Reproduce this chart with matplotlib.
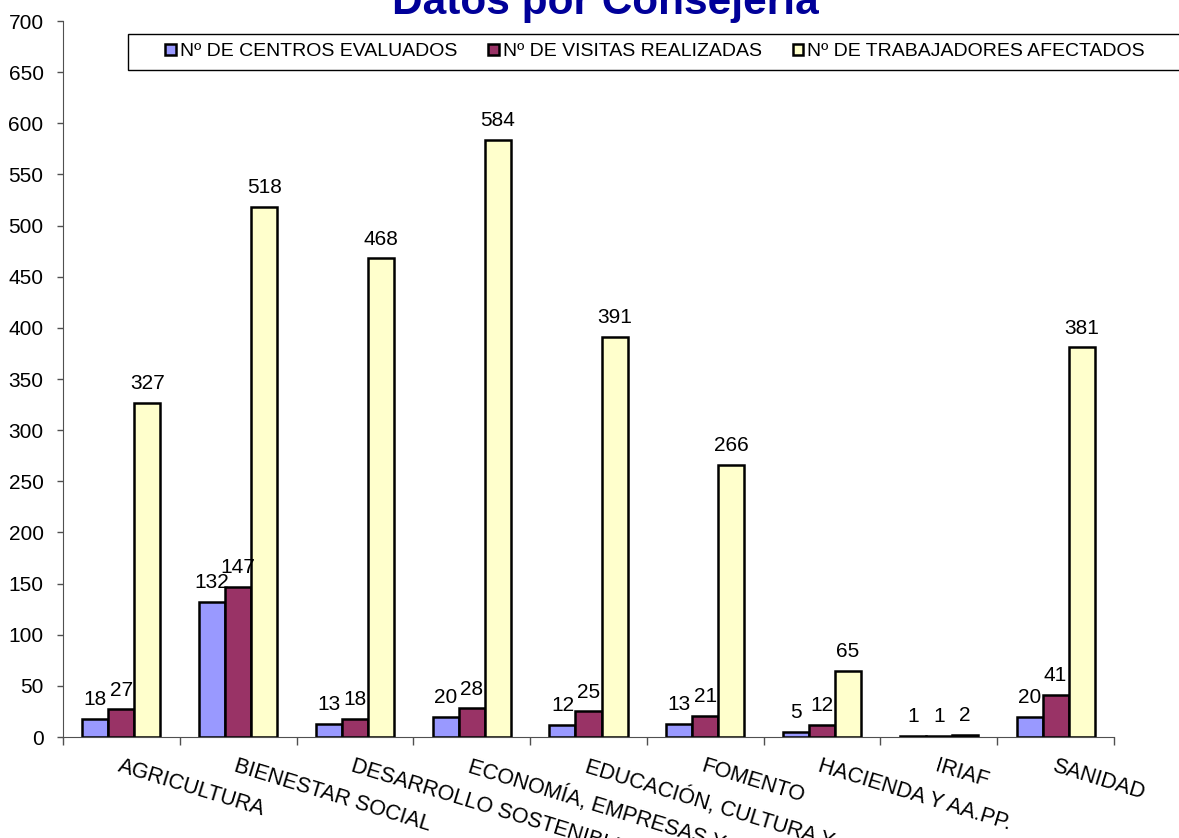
import matplotlib.pyplot as plt
from matplotlib.patches import Rectangle
import numpy as np

plt.rcParams['font.family'] = ['Liberation Sans', 'DejaVu Sans']

categorias = ['AGRICULTURA', 'BIENESTAR SOCIAL', 'DESARROLLO SOSTENIBLE',
              'ECONOMÍA, EMPRESAS Y…', 'EDUCACIÓN, CULTURA Y…', 'FOMENTO',
              'HACIENDA Y AA.PP.', 'IRIAF', 'SANIDAD']
centros = [18, 132, 13, 20, 12, 13, 5, 1, 20]
visitas = [27, 147, 18, 28, 25, 21, 12, 1, 41]
trabajadores = [327, 518, 468, 584, 391, 266, 65, 2, 381]
series_names = ['Nº DE CENTROS EVALUADOS', 'Nº DE VISITAS REALIZADAS',
                'Nº DE TRABAJADORES AFECTADOS']
colores = ['#9999FF', '#993366', '#FFFFCC']

fig = plt.figure(figsize=(11.79, 8.38), dpi=100)
ax = fig.add_axes([63/1179, 1-737/838, (1114-63)/1179, (737-21)/838])

x = np.arange(len(categorias))
w = 0.223
for i, (vals, name, col) in enumerate(zip([centros, visitas, trabajadores], series_names, colores)):
    pos = x + (i - 1) * w
    ax.bar(pos, vals, w, color=col, edgecolor='black', linewidth=1.8, label=name)
    for p, v in zip(pos, vals):
        ax.annotate(str(v), (p, v), xytext=(0, 7), textcoords='offset points',
                    ha='center', va='bottom', fontsize=15)

ax.set_xlim(-0.5, len(categorias) - 0.5)
ax.set_ylim(0, 700)
ax.set_yticks(range(0, 701, 50))
ax.tick_params(axis='y', labelsize=15, direction='out', length=4, width=1,
               color='#505050', pad=10)
ax.set_xticks(np.arange(-0.5, len(categorias), 1))
ax.set_xticklabels([])
ax.tick_params(axis='x', direction='out', length=6, width=1, color='#505050')
for xi, lab in zip(x, categorias):
    ax.text(xi, -18, lab, rotation=-17, rotation_mode='anchor', ha='left', va='top',
            fontsize=15.5, transform=ax.transData)

ax.spines['top'].set_visible(False)
ax.spines['right'].set_visible(False)
ax.spines['left'].set_color('#505050')
ax.spines['bottom'].set_color('#505050')

fig.text(605/1179, 1-14/838, 'Datos por Consejería', ha='center', va='baseline',
         fontsize=30.5, fontweight='bold', color='#000099')

# legend frame runs past the right edge of the picture
fig.patches.append(Rectangle((128/1179, 1-70/838), 1.0, 36/838, transform=fig.transFigure,
                             facecolor='white', edgecolor='black', linewidth=1.0, zorder=2))
leg = fig.legend(loc='center left', bbox_to_anchor=(165/1179, 1-52/838), ncol=3,
                 fontsize=14, frameon=False,
                 handlelength=0.55, handleheight=0.55, handletextpad=0.2,
                 columnspacing=1.6, borderpad=0, borderaxespad=0)
leg.set_zorder(3)

fig.savefig('out.png', dpi=100)
